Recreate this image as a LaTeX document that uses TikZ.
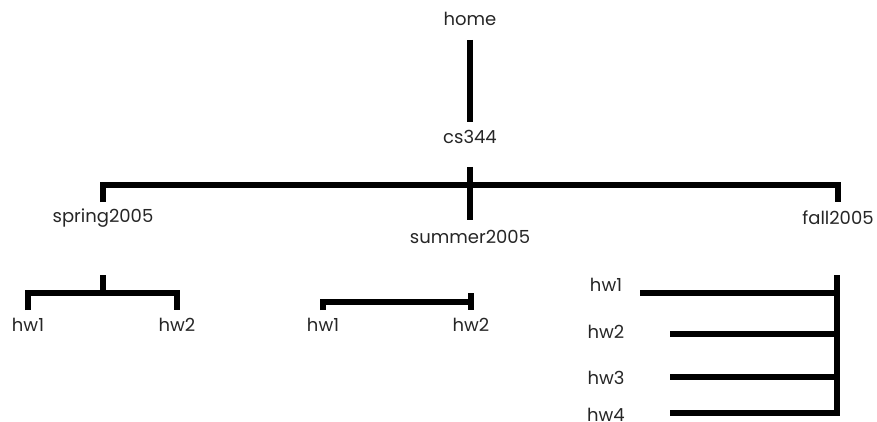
\documentclass[tikz,border=0pt]{standalone}
\usepackage{fontspec}
\setmainfont{Poppins}
\usepackage{tikz}
\usetikzlibrary{calc}

\tikzset{
  dir/.style={font=\fontsize{18}{20}\selectfont, text=black!85, inner sep=0pt},
  link/.style={line width=5.5pt, line join=miter}
}

\begin{document}
\begin{tikzpicture}[x=1pt,y=-1pt]
  \useasboundingbox (0,0) rectangle (877,422);
  % directory names
  \node[dir] (home) at (470,19) {home};
  \node[dir] (cs344) at (470,137) {cs344};
  \node[dir] (spring) at (103,218) {spring2005};
  \node[dir] (summer) at (470,237) {summer2005};
  \node[dir] (fall) at (838,218) {fall2005};
  \node[dir] (sh1) at (28,325) {hw1};
  \node[dir] (sh2) at (177,325) {hw2};
  \node[dir] (uh1) at (323,325) {hw1};
  \node[dir] (uh2) at (471,325) {hw2};
  \node[dir] (fh1) at (606,285) {hw1};
  \node[dir] (fh2) at (606,332) {hw2};
  \node[dir] (fh3) at (606,378) {hw3};
  \node[dir] (fh4) at (606,415) {hw4};
  % junction points
  \coordinate (hub) at (470,185);
  \coordinate (sbar) at (103,293);
  \coordinate (fend) at (837,413);
  \coordinate (f1) at (640,293);
  \coordinate (f2) at (670,334);
  \coordinate (f3) at (670,377);
  \coordinate (f4) at (670,413);
  % tree lines
  \draw[link] ($(home)+(0,21)$) -- ($(cs344)+(0,-15)$);
  \draw[link] ($(cs344)+(0,30)$) -- ($(summer)+(0,-17)$);
  \draw[link] ($(spring)+(0,-16)$) |- (hub) -| ($(fall)+(0,-16)$);
  \draw[link] ($(spring)+(0,57)$) -- (sbar);
  \draw[link] ($(sh1)+(0,-15)$) |- (sbar) -| ($(sh2)+(0,-15)$);
  \draw[link] ($(uh1)+(0,-15)$) |- ($(uh2)+(0,-23)$);
  \draw[link] ($(uh2)+(0,-32)$) -- ($(uh2)+(0,-15)$);
  \draw[link] ($(fall)+(-1,57)$) -- (fend) -- (f4);
  \draw[link] (f1) -- (f1 -| fend);
  \draw[link] (f2) -- (f2 -| fend);
  \draw[link] (f3) -- (f3 -| fend);
\end{tikzpicture}
\end{document}
